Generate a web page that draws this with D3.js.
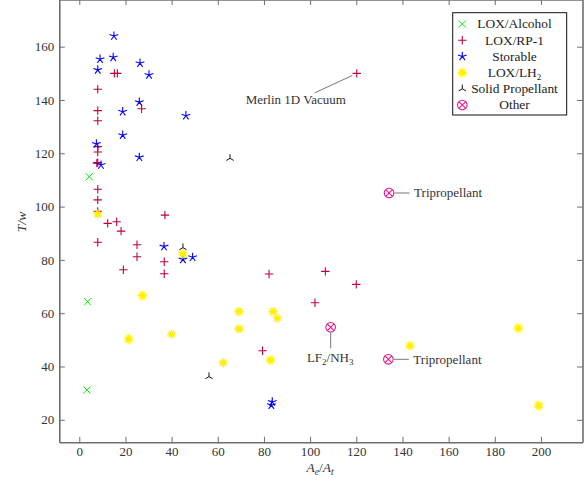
<!DOCTYPE html>
<html><head><meta charset="utf-8">
<script src="https://cdn.jsdelivr.net/npm/d3@7"></script>
<style>
body{margin:0;background:#fff;}
svg{display:block;}
text{font-family:"Liberation Serif","DejaVu Serif",serif;}
</style></head>
<body>
<svg id="c" width="585" height="481"></svg>
<script>
// ---- data ----
const loxAlcohol = [[4.3,111.2],[3.6,64.3],[3.3,31.2]];
const loxRP1 = [[15.2,150.0],[16.5,150.0],[8.0,144.0],[8.0,136.0],[8.0,132.2],[27.0,136.7],
  [8.0,122.5],[8.0,120.5],[8.0,116.5],[7.6,116.3],[8.0,106.5],[8.0,102.5],[8.0,98.2],
  [12.3,93.7],[16.2,94.3],[18.1,90.8],[37.1,96.8],[8.0,86.6],[25.0,85.7],[25.0,81.2],
  [36.8,79.3],[36.8,74.8],[19.1,76.3],[82.2,74.7],[106.6,75.7],[120.0,70.8],[102.1,63.9],
  [79.4,45.9],[120.2,150.0]];
const storable = [[15.0,164.0],[9.0,155.3],[14.7,156.0],[8.0,151.3],[26.3,153.8],[30.2,149.4],
  [26.0,139.2],[18.8,135.6],[46.2,134.1],[18.8,126.8],[7.4,123.5],[26.0,118.5],[9.4,115.6],
  [36.7,85.0],[44.9,80.2],[49.1,81.0],[83.6,26.7],[83.2,25.5]];
const loxLH2 = [[8.0,97.2],[27.4,66.6],[21.4,50.3],[40.0,52.1],[44.9,82.2],[62.4,41.4],
  [69.2,60.6],[69.2,54.1],[84.0,60.6],[85.8,58.1],[82.9,42.4],[143.3,47.8],[190.2,54.4],[199.0,25.3]];
const solid = [[65.3,118.1],[44.9,84.6],[56.2,36.2]];
const other = [[108.9,54.7],[133.9,42.7],[134.2,105.1]];
const xTicks = [0,20,40,60,80,100,120,140,160,180,200];
const yTicks = [20,40,60,80,100,120,140,160];
const legendLabels = ["LOX/Alcohol","LOX/RP-1","Storable","LOX/LH2","Solid Propellant","Other"];

// ---- layout ----
const svg = d3.select("#c");
const L = 59.3, R = 582.5, T = -0.5, B = 442.3;
const x = d3.scaleLinear().domain([-8.66, 218.0]).range([L, R]);
const y = d3.scaleLinear().domain([11.56, 177.7]).range([B, T]);
const axisColor = "#6e6e6e", textColor = "#333";

// axes (ticks inward on all four sides)
const gx = svg.append("g").attr("transform",`translate(0,${B})`)
  .call(d3.axisBottom(x).tickValues(xTicks).tickSizeInner(-5.5).tickSizeOuter(0).tickPadding(4));
const gxt = svg.append("g").attr("transform",`translate(0,${T})`)
  .call(d3.axisTop(x).tickValues(xTicks).tickSizeInner(-5.5).tickSizeOuter(0).tickFormat(""));
const gy = svg.append("g").attr("transform",`translate(${L},0)`)
  .call(d3.axisLeft(y).tickValues(yTicks).tickSizeInner(-5.5).tickSizeOuter(0).tickPadding(5));
const gyr = svg.append("g").attr("transform",`translate(${R},0)`)
  .call(d3.axisRight(y).tickValues(yTicks).tickSizeInner(-5.5).tickSizeOuter(0).tickFormat(""));
[gx,gxt,gy,gyr].forEach(g=>{
  g.attr("font-family",null);
  g.select(".domain").attr("stroke",axisColor).attr("stroke-width",1.6);
  g.selectAll(".tick line").attr("stroke",axisColor).attr("stroke-width",1);
  g.selectAll(".tick text").attr("fill",textColor).attr("font-size",13)
   .attr("font-family","Liberation Serif, serif");
});

// ---- marker painters ----
const cGreen="#00ee00", cRed="#bf0040", cBlue="#0000ff", cYellow="#fff000", cBlack="#111", cMag="#e8168c";
function mkX(g,cx,cy){const r=3.6;
  g.append("path").attr("d",`M${cx-r},${cy-r}L${cx+r},${cy+r}M${cx-r},${cy+r}L${cx+r},${cy-r}`)
   .attr("stroke",cGreen).attr("stroke-width",1).attr("fill","none");}
function mkPlus(g,cx,cy){const r=4.2;
  g.append("path").attr("d",`M${cx-r},${cy}L${cx+r},${cy}M${cx},${cy-r}L${cx},${cy+r}`)
   .attr("stroke",cRed).attr("stroke-width",1.1).attr("fill","none");}
function mkStar(g,cx,cy){const r=4.6;let d="";
  for(let i=0;i<5;i++){const a=-Math.PI/2+i*2*Math.PI/5;d+=`M${cx},${cy}L${cx+r*Math.cos(a)},${cy+r*Math.sin(a)}`;}
  g.append("path").attr("d",d).attr("stroke",cBlue).attr("stroke-width",1.1).attr("fill","none");}
function mkSun(g,cx,cy){const r=4.7;let d="";
  for(let i=0;i<12;i++){const a=i*Math.PI/6;d+=`M${cx},${cy}L${cx+r*Math.cos(a)},${cy+r*Math.sin(a)}`;}
  g.append("path").attr("d",d).attr("stroke",cYellow).attr("stroke-width",1.1).attr("fill","none");
  g.append("circle").attr("cx",cx).attr("cy",cy).attr("r",2.2).attr("fill",cYellow);}
function mkMerc(g,cx,cy){const r=4.2;let d="";
  [-90,30,150].forEach(deg=>{const a=deg*Math.PI/180;d+=`M${cx},${cy}L${cx+r*Math.cos(a)},${cy+r*Math.sin(a)}`;});
  g.append("path").attr("d",d).attr("stroke",cBlack).attr("stroke-width",1).attr("fill","none");}
function mkOtimes(g,cx,cy){const r=4.8,k=r*0.7071;
  g.append("circle").attr("cx",cx).attr("cy",cy).attr("r",r).attr("fill","none").attr("stroke",cMag).attr("stroke-width",1.1);
  g.append("path").attr("d",`M${cx-k},${cy-k}L${cx+k},${cy+k}M${cx-k},${cy+k}L${cx+k},${cy-k}`)
   .attr("stroke",cMag).attr("stroke-width",1.1);}

const series = [
  {data:loxAlcohol, mk:mkX},
  {data:loxRP1, mk:mkPlus},
  {data:storable, mk:mkStar},
  {data:loxLH2, mk:mkSun},
  {data:solid, mk:mkMerc},
  {data:other, mk:mkOtimes}
];
const marks = svg.append("g");
series.forEach(s=>s.data.forEach(d=>s.mk(marks,x(d[0]),y(d[1]))));

// ---- annotations ----
const ann = svg.append("g");
const lineC="#777";
// Merlin 1D Vacuum
{const px=x(120.2),py=y(150.0);
 ann.append("line").attr("x1",px-4.5).attr("y1",py+2.2).attr("x2",px-42).attr("y2",py+19.5)
   .attr("stroke",lineC).attr("stroke-width",1);
 ann.append("text").attr("x",px-61).attr("y",py+30.5).attr("text-anchor","middle")
   .attr("font-size",13).attr("fill",textColor).text("Merlin 1D Vacuum");}
// LF2/NH3
{const px=x(108.9),py=y(54.7);
 ann.append("line").attr("x1",px).attr("y1",py+5.5).attr("x2",px).attr("y2",py+21)
   .attr("stroke",lineC).attr("stroke-width",1);
 const t=ann.append("text").attr("x",px-0.5).attr("y",py+35).attr("text-anchor","middle")
   .attr("font-size",13).attr("fill",textColor);
 t.append("tspan").text("LF");
 t.append("tspan").attr("font-size",9).attr("dy",3).text("2");
 t.append("tspan").attr("dy",-3).text("/NH");
 t.append("tspan").attr("font-size",9).attr("dy",3).text("3");}
// Tripropellant x2
[[133.9,42.7],[134.2,105.1]].forEach(p=>{const px=x(p[0]),py=y(p[1]);
 ann.append("line").attr("x1",px+5.5).attr("y1",py).attr("x2",px+20.5).attr("y2",py)
   .attr("stroke",lineC).attr("stroke-width",1);
 ann.append("text").attr("x",px+25).attr("y",py+4.3).attr("font-size",13).attr("fill",textColor).text("Tripropellant");});

// ---- axis labels ----
const xl = svg.append("text").attr("x",320).attr("y",472).attr("text-anchor","middle")
  .attr("font-size",13.5).attr("fill",textColor);
xl.append("tspan").attr("font-style","italic").text("A");
xl.append("tspan").attr("font-style","italic").attr("font-size",9.5).attr("dy",3).text("e");
xl.append("tspan").attr("dy",-3).text("/");
xl.append("tspan").attr("font-style","italic").text("A");
xl.append("tspan").attr("font-style","italic").attr("font-size",9.5).attr("dy",3).text("t");
svg.append("text").attr("transform","translate(26,222) rotate(-90)").attr("text-anchor","middle")
  .attr("font-size",13.5).attr("fill",textColor).attr("font-style","italic").text("T/w");

// ---- legend ----
const lg = svg.append("g");
lg.append("rect").attr("x",452.7).attr("y",12.7).attr("width",114).attr("height",102.3)
  .attr("fill","#fff").attr("stroke","#111").attr("stroke-width",1);
legendLabels.forEach((lab,i)=>{
  const ly=24+i*16.2;
  series[i].mk(lg,462.3,ly);
  const t=lg.append("text").attr("x",514.5).attr("y",ly+4.3).attr("text-anchor","middle")
    .attr("font-size",13.4).attr("fill","#222");
  if(lab==="LOX/LH2"){t.append("tspan").text("LOX/LH");t.append("tspan").attr("font-size",9).attr("dy",3).text("2");}
  else t.text(lab);
});
</script>
</body></html>
